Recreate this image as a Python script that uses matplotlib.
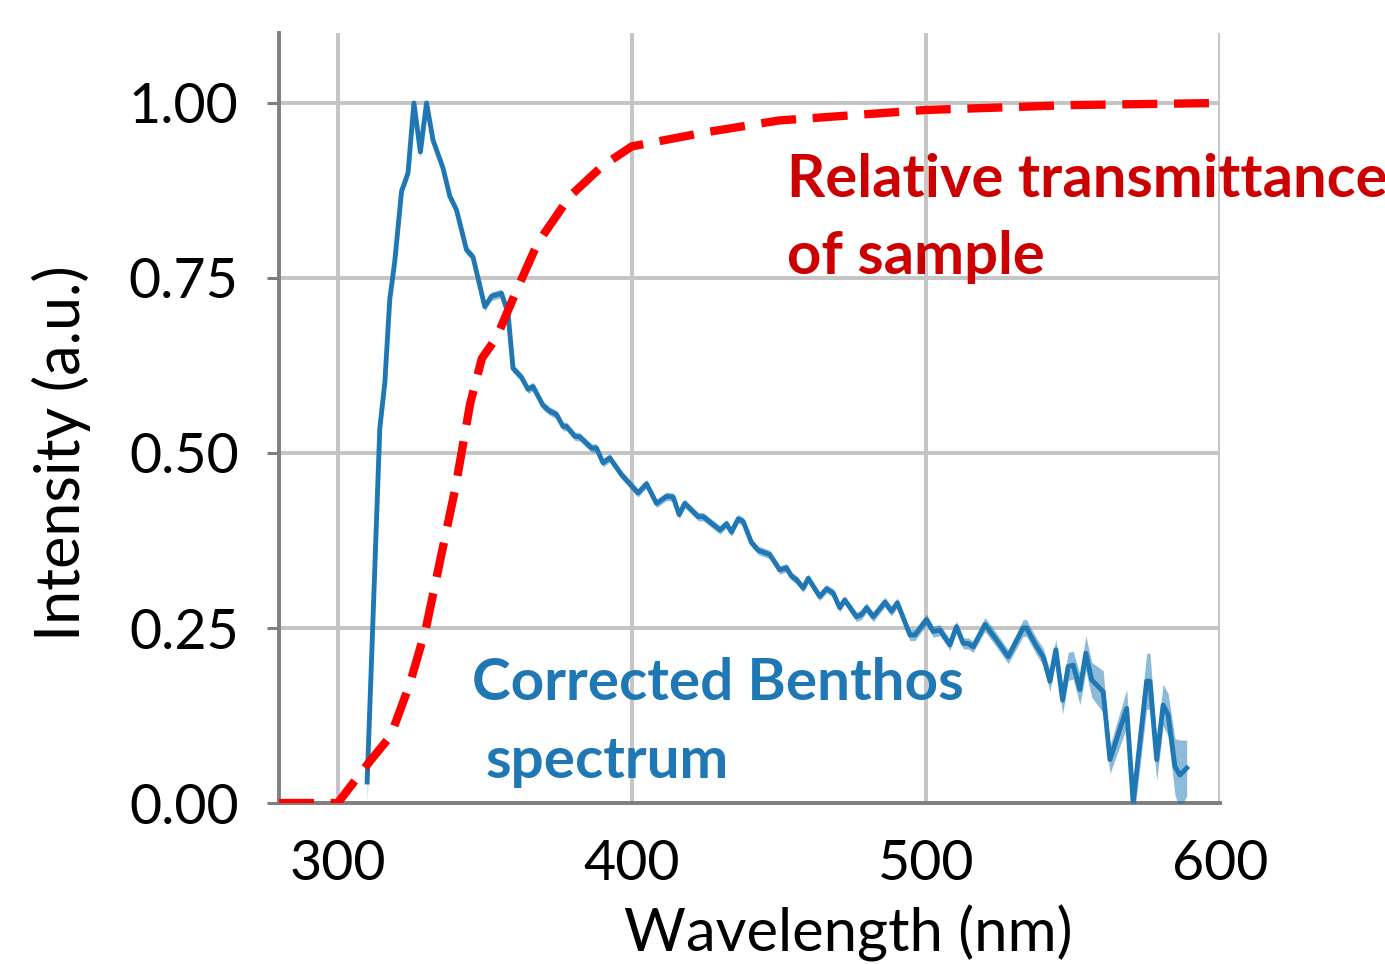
import matplotlib
matplotlib.use("Agg")
import matplotlib.pyplot as plt
import numpy as np

# corrected Benthos spectrum
wavelength = [310.0, 314.3, 316.0, 317.7, 319.4, 321.7, 323.9, 325.9, 328.1, 330.2,
              332.4, 335.8, 338.1, 340.4, 343.8, 346.0, 350.0, 352.3, 355.7, 357.9,
              359.6, 362.5, 364.7, 366.4, 369.8, 372.0, 374.4, 376.6, 377.8, 380.6,
              382.3, 386.3, 388.0, 390.2, 392.5, 396.5, 402.1, 405.0, 408.4, 411.8,
              414.1, 416.1, 418.0, 422.6, 424.3, 430.0, 432.2, 433.9, 436.2, 437.9,
              440.7, 443.0, 446.9, 450.3, 452.6, 454.3, 456.0, 458.3, 460.0, 463.9,
              466.2, 468.5, 470.7, 472.4, 476.4, 478.1, 479.8, 482.1, 486.1, 488.3,
              490.3, 494.6, 496.3, 500.2, 502.5, 504.8, 508.2, 510.4, 512.7, 514.4,
              516.1, 520.1, 524.0, 528.0, 533.1, 534.2, 537.6, 539.9, 542.2, 544.2,
              546.5, 548.4, 550.1, 552.4, 554.4, 556.4, 560.3, 562.6, 568.3, 570.5,
              575.1, 576.2, 578.5, 580.7, 582.4, 584.7, 586.4, 588.7]
intensity = [0.030, 0.535, 0.600, 0.720, 0.774, 0.874, 0.900, 1.000, 0.930, 1.000,
             0.947, 0.907, 0.867, 0.847, 0.790, 0.780, 0.709, 0.724, 0.728, 0.700,
             0.621, 0.608, 0.591, 0.595, 0.568, 0.560, 0.555, 0.538, 0.538, 0.524,
             0.523, 0.507, 0.507, 0.486, 0.493, 0.469, 0.443, 0.456, 0.428, 0.438,
             0.437, 0.412, 0.428, 0.409, 0.409, 0.390, 0.399, 0.387, 0.406, 0.402,
             0.372, 0.361, 0.355, 0.333, 0.336, 0.324, 0.319, 0.307, 0.321, 0.295,
             0.306, 0.300, 0.279, 0.290, 0.266, 0.269, 0.279, 0.266, 0.287, 0.274,
             0.286, 0.240, 0.240, 0.262, 0.245, 0.247, 0.226, 0.252, 0.228, 0.228,
             0.223, 0.255, 0.233, 0.209, 0.250, 0.250, 0.224, 0.209, 0.174, 0.219,
             0.147, 0.195, 0.197, 0.162, 0.214, 0.176, 0.159, 0.062, 0.135, 0.000,
             0.174, 0.174, 0.062, 0.140, 0.126, 0.052, 0.040, 0.050]
spread = [0.030, 0.008, 0.006, 0.006, 0.006, 0.008, 0.008, 0.006, 0.008, 0.006,
          0.006, 0.006, 0.006, 0.006, 0.006, 0.006, 0.006, 0.006, 0.006, 0.006,
          0.006, 0.006, 0.006, 0.006, 0.006, 0.006, 0.006, 0.006, 0.006, 0.006,
          0.006, 0.006, 0.006, 0.006, 0.006, 0.006, 0.006, 0.006, 0.006, 0.006,
          0.006, 0.006, 0.006, 0.006, 0.006, 0.006, 0.006, 0.006, 0.006, 0.006,
          0.006, 0.006, 0.006, 0.006, 0.006, 0.006, 0.006, 0.006, 0.006, 0.006,
          0.006, 0.006, 0.006, 0.006, 0.007, 0.007, 0.007, 0.007, 0.007, 0.007,
          0.007, 0.008, 0.008, 0.008, 0.008, 0.008, 0.008, 0.008, 0.008, 0.008,
          0.008, 0.010, 0.010, 0.010, 0.012, 0.012, 0.012, 0.012, 0.015, 0.015,
          0.020, 0.020, 0.020, 0.022, 0.025, 0.025, 0.030, 0.020, 0.027, 0.030,
          0.040, 0.040, 0.030, 0.030, 0.030, 0.040, 0.050, 0.040]

# relative transmittance of sample
trans_wl = [280, 300, 311, 318, 324.5, 330, 336, 340, 345, 349, 354, 361, 368,
            379, 390, 400, 425, 450, 500, 550, 600]
trans = [0.0, 0.0, 0.06, 0.096, 0.17, 0.25, 0.37, 0.45, 0.57, 0.635, 0.665,
         0.734, 0.80, 0.867, 0.91, 0.938, 0.958, 0.975, 0.99, 0.997, 1.0]

x_ticks = [300, 400, 500, 600]
y_ticks = [0.0, 0.25, 0.5, 0.75, 1.0]

plt.rcParams['font.family'] = ['Lato', 'DejaVu Sans']

fig = plt.figure(figsize=(13.85, 9.64), dpi=100)
ax = fig.add_axes([0.2014, 0.167, 0.6794, 0.7988])

blue = "#1f77b4"
wl = np.array(wavelength)
val = np.array(intensity)
err = np.array(spread)
ax.fill_between(wl, val - err, val + err, color=blue, alpha=0.5, lw=0, zorder=3)
ax.plot(wl, val, color=blue, lw=3.5, zorder=4)
ax.plot(trans_wl, trans, color="#ff0000", lw=6, dashes=(4.2, 2.0), zorder=5)

ax.set_xlim(280, 600)
ax.set_ylim(0, 1.1)
ax.set_xticks(x_ticks)
ax.set_yticks(y_ticks)
ax.set_yticklabels([f"{t:.2f}" for t in y_ticks])
ax.grid(True, color="#c4c4c4", lw=2.8, zorder=0)
ax.set_axisbelow(True)
for s in ["top", "right"]:
    ax.spines[s].set_visible(False)
for s in ["left", "bottom"]:
    ax.spines[s].set_color("#7f7f7f")
    ax.spines[s].set_linewidth(2.8)
ax.tick_params(axis="y", length=9, width=2.2, color="#7f7f7f", pad=20, labelsize=40)
ax.tick_params(axis="x", length=0, pad=26, labelsize=40)

ax.set_xlabel("Wavelength (nm)", fontsize=43)
ax.xaxis.set_label_coords(0.605, -0.132)
ax.set_ylabel("Intensity (a.u.)", fontsize=44)
ax.yaxis.set_label_coords(-0.2, 0.455)

red_txt = "#cc0000"
ax.text(452.7, 0.866, "Relative transmittance", color=red_txt, fontsize=43,
        fontweight="bold", va="baseline", ha="left", clip_on=False)
ax.text(452.7, 0.756, "of sample", color=red_txt, fontsize=43,
        fontweight="bold", va="baseline", ha="left", clip_on=False)
ax.text(345.6, 0.147, "Corrected Benthos", color=blue, fontsize=42,
        fontweight="bold", va="baseline", ha="left")
ax.text(350.3, 0.036, "spectrum", color=blue, fontsize=42,
        fontweight="bold", va="baseline", ha="left")

fig.savefig("out.png", dpi=100)
